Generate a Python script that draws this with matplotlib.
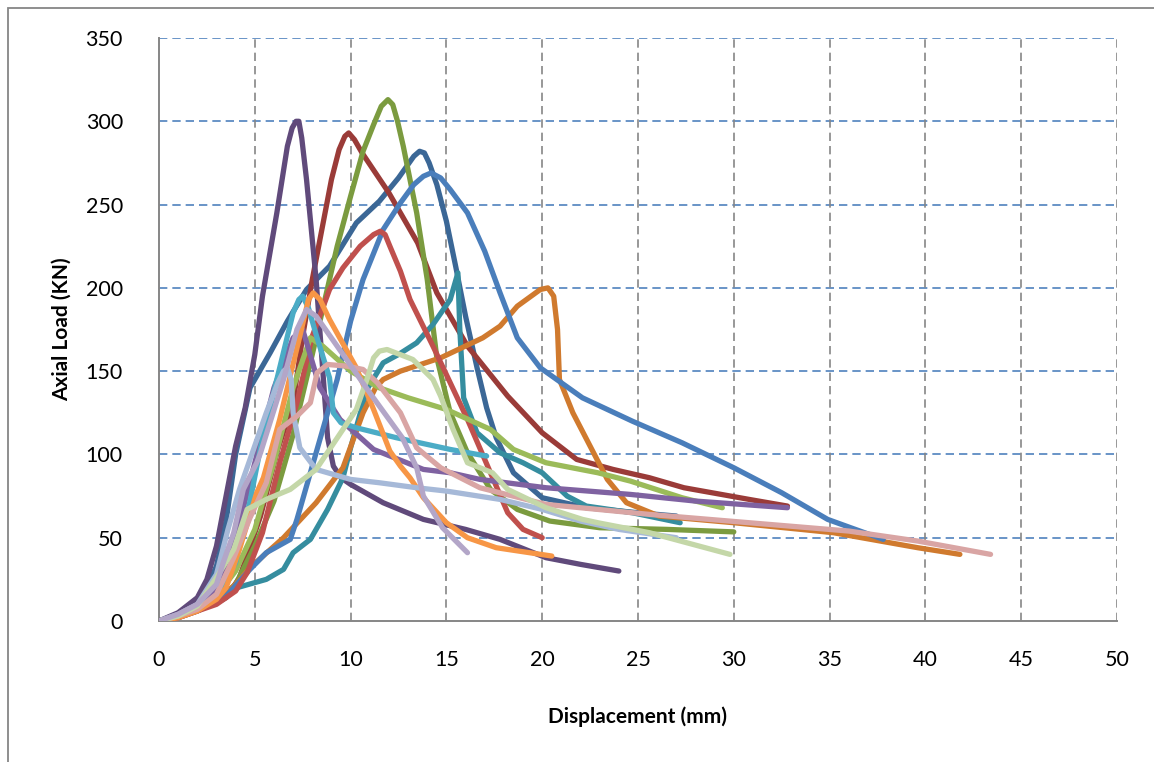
import matplotlib
matplotlib.use("Agg")
import matplotlib.pyplot as plt
from matplotlib.patches import Rectangle

# -----------------------
# DATA
# -----------------------

x_ticks = [0, 5, 10, 15, 20, 25, 30, 35, 40, 45, 50]
y_ticks = [0, 50, 100, 150, 200, 250, 300, 350]

dark_blue_x = [0, 1, 2, 2.5, 3, 3.5, 4, 4.75, 5.8, 6.7, 7.7, 8.9, 10.3, 11.5, 12.5, 13.3, 13.6, 13.85, 14.1, 14.5, 15.0, 15.5, 16.0, 16.6, 17.1, 17.6, 18.5, 20, 22.3, 25, 27]
dark_blue_y = [0, 4, 11, 20, 33, 60, 100, 140, 161, 180, 199, 213, 239, 252, 266, 279, 282, 281, 275, 262, 240, 212, 183, 152, 128, 110, 89, 74, 68, 65, 63]

dark_red_x = [0, 1, 2, 3, 3.5, 4.2, 5.3, 6.2, 7.0, 7.5, 8.0, 8.5, 9.0, 9.4, 9.7, 9.9, 10.2, 10.6, 12.0, 13.5, 14.5, 16.1, 18.2, 20, 21.8, 23.7, 25.6, 27.4, 30.8, 32.8]
dark_red_y = [0, 3, 7, 11, 14, 26, 63, 103, 131, 171, 205, 235, 265, 283, 291, 293, 289, 281, 257, 227, 197, 165, 135, 113, 97, 91, 86, 80, 73, 69]

olive_x = [0, 1, 2, 3, 4, 5, 6, 7, 8, 8.8, 9.3, 10, 10.65, 11.2, 11.6, 11.95, 12.2, 12.45, 12.75, 13.45, 14.0, 14.5, 15.2, 16.1, 17.3, 18.7, 20.4, 23, 26.5, 30]
olive_y = [0, 3, 7, 12, 22, 45, 72, 112, 160, 200, 225, 255, 282, 298, 309, 313, 310, 300, 285, 245, 205, 158, 125, 101, 79, 67, 60, 56, 55, 53.5]

dark_purple_x = [0, 1, 2, 2.5, 3, 3.5, 4, 4.5, 5, 5.4, 6.15, 6.7, 6.95, 7.15, 7.3, 7.45, 7.7, 8.2, 8.55, 8.8, 9.1, 9.5, 10, 11.7, 13.8, 16, 17.8, 20.2, 22, 24]
dark_purple_y = [0, 5, 14, 25, 45, 75, 105, 128, 160, 195, 245, 285, 296, 300, 300, 290, 265, 205, 150, 110, 93, 86, 82, 71, 61, 55, 49, 38, 34, 30]

blue_x = [0, 1, 2, 3.35, 4.75, 5.6, 6.85, 7.2, 8.2, 9.3, 10, 10.65, 11.7, 12.6, 13.3, 13.8, 14.2, 14.7, 15.2, 16.1, 17.0, 17.8, 18.7, 19.9, 22.1, 24.7, 27.3, 30, 32.5, 34.9, 36.1, 37.8]
blue_y = [0, 2, 6, 13, 31, 41, 49, 61, 101, 145, 180, 205, 235, 251, 262, 267, 269, 266, 259, 245, 222, 197, 170, 152, 134, 120, 107, 92, 77, 61, 56, 49]

red_x = [0, 1, 2, 3, 4, 4.6, 5.4, 6.3, 7.2, 8.0, 8.9, 9.6, 10.5, 11.2, 11.55, 11.8, 12.05, 12.6, 13.1, 14.3, 16.1, 17.3, 18.2, 19, 20]
red_y = [0, 2, 6, 10, 18, 29, 53, 95, 131, 171, 199, 212, 225, 232, 234, 232, 225, 210, 193, 165, 121, 89, 65, 55, 50]

teal_x = [0, 1, 2, 3, 4.07, 5.6, 6.5, 7.0, 7.9, 8.8, 9.6, 10, 10.85, 11.7, 12.5, 13.45, 14.3, 15.2, 15.6, 15.7, 15.9, 16.6, 17.8, 19, 20, 21.3, 22.3, 24.7, 27.2]
teal_y = [0, 3, 7, 12, 20, 25, 31, 41, 49, 67, 86, 104, 139, 155, 160, 167, 178, 193, 209, 175, 134, 113, 101, 95, 89, 75, 69, 65, 59]

brown_x = [0, 1, 2, 3, 4, 4.75, 6.5, 8.2, 9.6, 10.65, 11.3, 11.7, 12.6, 14.7, 16.9, 17.8, 18.7, 19.9, 20.3, 20.6, 20.8, 20.9, 21.6, 22.5, 23.4, 24.4, 26.1, 30, 33.5, 35.2, 39.6, 41.8]
brown_y = [0, 2, 6, 12, 22, 32, 50, 71, 92, 125, 140, 145, 150, 158, 170, 177, 189, 199, 200, 195, 175, 145, 125, 105, 85, 71, 63, 59, 55, 53, 44, 40]

green_x = [0, 1, 2, 3, 4, 5, 6, 7, 7.9, 8.55, 10, 11.5, 13, 15, 17.3, 18.5, 20.2, 22.9, 24.6, 27.3, 29.4]
green_y = [0, 3, 8, 15, 30, 55, 95, 140, 170, 165, 150, 140, 134, 127, 115, 103, 95, 89, 84, 74, 68]

purple_x = [0, 1, 2, 3, 4, 5, 6, 7, 7.5, 8.4, 9.45, 11.2, 13.8, 15.2, 16.75, 20.2, 24.6, 28, 32.8]
purple_y = [0, 3, 9, 20, 50, 95, 140, 170, 175, 140, 121, 103, 91, 89, 85, 80, 76, 72, 68]

cyan_x = [0, 1, 2, 3, 4, 4.75, 5.3, 6.15, 7.0, 7.3, 7.5, 7.8, 8.25, 8.9, 9.1, 9.5, 10.3, 12.4, 15.2, 17.1]
cyan_y = [0, 3, 8, 15, 35, 72, 104, 145, 185, 193, 195, 188, 170, 146, 125, 119, 116, 110, 103, 99]

orange_x = [0, 1, 2, 3, 3.5, 4.2, 5.1, 5.45, 6.3, 7.35, 7.8, 8.05, 8.4, 8.9, 10.3, 11.2, 12.05, 12.6, 13.1, 13.8, 15, 16.1, 17.6, 20.5]
orange_y = [0, 2, 6, 13, 20, 43, 77, 86, 121, 171, 193, 197, 193, 181, 152, 127, 102, 93, 86, 74, 59, 50, 44, 39]

greyblue_x = [0, 1, 2, 3, 3.6, 4.2, 4.75, 5.6, 6.2, 6.5, 6.7, 6.9, 7.0, 7.35, 8.2, 10, 11.5, 13.45, 15, 17.8, 20, 22, 24, 27]
greyblue_y = [0, 4, 10, 28, 55, 79, 97, 125, 143, 150, 152, 145, 125, 104, 91, 85, 83, 80, 78, 73, 67, 60, 55, 50]

pink_x = [0, 1, 2, 3, 3.9, 4.75, 5.6, 6.3, 7.2, 7.9, 8.25, 8.8, 9.8, 10.65, 11.4, 12.6, 13.45, 14.7, 16.75, 20.2, 25.6, 30.8, 36, 39.6, 43.4]
pink_y = [0, 3, 7, 16, 38, 62, 83, 115, 123, 131, 149, 154, 153, 151, 143, 125, 104, 92, 80, 70, 64, 59, 54, 48, 40]

pale_x = [0, 1, 2, 3, 3.9, 4.6, 5.6, 6.85, 8.2, 8.9, 10.3, 10.85, 11.2, 11.5, 11.9, 13.25, 14.3, 14.7, 15.35, 16.1, 17.4, 18.2, 20.2, 22.1, 22.9, 25.6, 29.8]
pale_y = [0, 3, 9, 26, 43, 67, 73, 79, 91, 103, 127, 145, 158, 162, 163, 157, 145, 135, 115, 95, 89, 79, 68, 61, 59, 53, 40]

lavender_x = [0, 1, 2, 3, 3.35, 3.9, 4.4, 5.1, 5.3, 6.5, 7.2, 7.7, 8.2, 9.3, 11, 12.7, 13.45, 13.8, 14.8, 16.1]
lavender_y = [0, 4, 10, 22, 35, 53, 79, 95, 101, 145, 175, 187, 183, 165, 137, 110, 92, 75, 56, 41]

# -----------------------
# FIGURE
# -----------------------

plt.rcParams['font.family'] = ['Lato', 'DejaVu Sans']

fig = plt.figure(figsize=(11.54, 7.62), dpi=100)
ax = fig.add_axes([159 / 1154, 1 - 621 / 762, (1117 - 159) / 1154, (621 - 38) / 762])

series = [
    (dark_blue_x, dark_blue_y, '#3B6796'),
    (dark_red_x, dark_red_y, '#9A3B38'),
    (olive_x, olive_y, '#7B9B3F'),
    (dark_purple_x, dark_purple_y, '#604A7B'),
    (teal_x, teal_y, '#358D9F'),
    (brown_x, brown_y, '#D07A2E'),
    (blue_x, blue_y, '#4A7EBB'),
    (red_x, red_y, '#C0504D'),
    (green_x, green_y, '#9BBB59'),
    (purple_x, purple_y, '#7F62A1'),
    (cyan_x, cyan_y, '#4BACC6'),
    (orange_x, orange_y, '#F79646'),
    (greyblue_x, greyblue_y, '#A6B9D8'),
    (pink_x, pink_y, '#D9A5A4'),
    (pale_x, pale_y, '#C4D7A8'),
    (lavender_x, lavender_y, '#B3A6C8'),
]

for xs, ys, col in series:
    ax.plot(xs, ys, color=col, linewidth=3.8, solid_capstyle='round',
            solid_joinstyle='round', zorder=3)

ax.set_xlim(0, 50)
ax.set_ylim(0, 350)
ax.set_xticks(x_ticks)
ax.set_yticks(y_ticks)

# grid: blue dashed horizontals, grey dashed verticals
for yv in y_ticks[1:]:
    ax.axhline(yv, color='#4F81BD', linestyle=(0, (5, 3)), linewidth=1.2, zorder=1)
for xv in x_ticks[1:]:
    ax.axvline(xv, color='#868686', linestyle=(0, (5, 3)), linewidth=1.2, zorder=1)

for side in ['top', 'right']:
    ax.spines[side].set_visible(False)
for side in ['left', 'bottom']:
    ax.spines[side].set_color('#868686')
    ax.spines[side].set_linewidth(1.4)

ax.tick_params(axis='both', length=0, labelsize=15.5, colors='black')
ax.tick_params(axis='x', pad=21)
ax.tick_params(axis='y', pad=26)

ax.set_xlabel("Displacement (mm)", fontsize=15, fontweight='bold', labelpad=26)
ax.set_ylabel("Axial Load (KN)", fontsize=15, fontweight='bold', labelpad=10)

# outer chart border
fig.patches.append(Rectangle((8 / 1154, -0.1), 1.2, 1 - 8 / 762 + 0.1,
                             transform=fig.transFigure, fill=False,
                             edgecolor='#868686', linewidth=1.3))

fig.savefig("out.png", dpi=100)
